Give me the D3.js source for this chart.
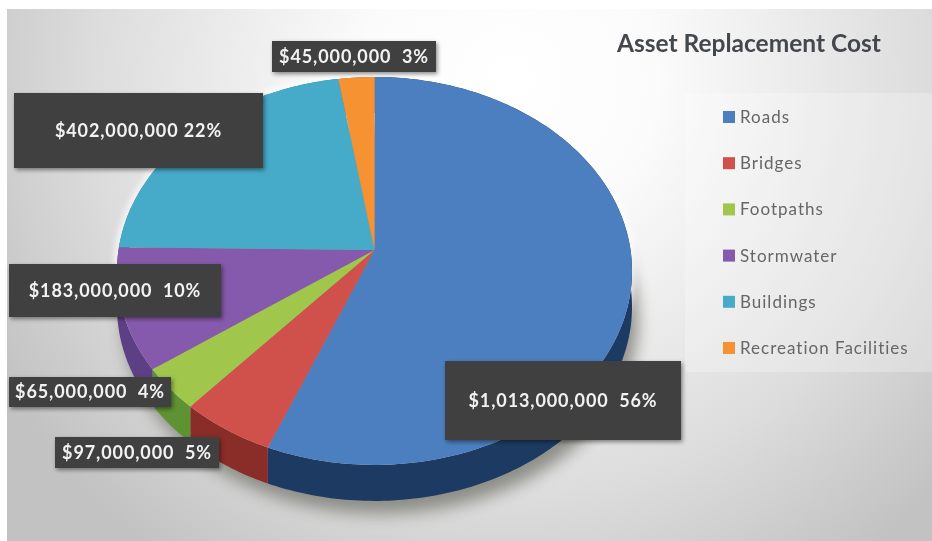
<!DOCTYPE html>
<head>
    <meta charset="utf-8">
    <script src="https://d3js.org/d3.v7.min.js"></script>
    <style>
        body {
            margin: 0;
            background: white;
        }

        svg {
            display: block;
            filter: blur(0.6px);
        }

        text {
            font-family: Lato, "Open Sans", sans-serif;
            white-space: pre;
        }
    </style>
</head>

<body>
<svg id="chart" width="932" height="541"></svg>
<script>

    const title = "Asset Replacement Cost";
    const categories = ["Roads", "Bridges", "Footpaths", "Stormwater", "Buildings", "Recreation Facilities"];
    const costs = [1013000000, 97000000, 65000000, 183000000, 402000000, 45000000];
    const labelTexts = ["$1,013,000,000  56%", "$97,000,000  5%", "$65,000,000  4%", "$183,000,000  10%", "$402,000,000 22%", "$45,000,000  3%"];
    const topColors = ["#4b7fbf", "#d0504b", "#a0c64c", "#8559ab", "#46abc8", "#f79232"];
    const sideColors = ["#1d3a63", "#8a2c27", "#5f9232", "#5d3f85", "#2d7f96", "#b5641c"];

    // label boxes: x, y, width, height
    const labelBoxes = [
        [445, 361, 236, 79],
        [55, 437, 164, 31],
        [9, 377, 162, 30],
        [9, 264, 212, 53],
        [14, 93, 249, 75],
        [272, 41, 164, 31]
    ];

    const svg = d3.select("#chart");
    const defs = svg.append("defs");

    const bg = defs.append("radialGradient")
        .attr("id", "bg")
        .attr("gradientUnits", "userSpaceOnUse")
        .attr("cx", 510).attr("cy", 80).attr("r", 590);
    bg.append("stop").attr("offset", "0").attr("stop-color", "#ffffff");
    bg.append("stop").attr("offset", "0.25").attr("stop-color", "#fbfbfb");
    bg.append("stop").attr("offset", "0.7").attr("stop-color", "#dddddd");
    bg.append("stop").attr("offset", "1").attr("stop-color", "#c2c2c2");

    defs.append("filter").attr("id", "soft")
        .attr("x", "-20%").attr("y", "-20%").attr("width", "140%").attr("height", "140%")
        .append("feGaussianBlur").attr("stdDeviation", 8);
    defs.append("filter").attr("id", "halo")
        .attr("x", "-20%").attr("y", "-20%").attr("width", "140%").attr("height", "140%")
        .append("feGaussianBlur").attr("stdDeviation", 3);
    defs.append("filter").attr("id", "boxShadow")
        .attr("x", "-10%").attr("y", "-20%").attr("width", "120%").attr("height", "140%")
        .append("feDropShadow")
        .attr("dx", 1.5).attr("dy", 2).attr("stdDeviation", 2)
        .attr("flood-color", "#000").attr("flood-opacity", 0.45);

    svg.append("rect")
        .attr("x", 7).attr("y", 9).attr("width", 925).attr("height", 532)
        .attr("fill", "url(#bg)");

    // legend panel is a bit lighter than the background
    svg.append("rect")
        .attr("x", 685).attr("y", 93).attr("width", 247).attr("height", 279)
        .attr("fill", "#fff").attr("opacity", 0.25);

    // perspective of the tilted pie, centre of the slices sits above the ellipse centre
    const cx = 374.5, cy = 250, rx = 256, ry = 191.7, tilt = -0.108, depth = 36;

    const xPos = d3.scaleLinear().domain([-1, 1]).range([cx - rx, cx + rx]);
    const yPos = d3.scaleLinear().domain([-1, 1]).range([cy - ry, cy + ry]);

    function project(angle, drop) {
        const w = 1 + tilt * -Math.cos(angle);
        return [
            xPos(Math.sin(angle) / w),
            yPos(-Math.cos(angle) / w) + drop
        ];
    }

    const line = d3.line();
    const pie = d3.pie().sort(null)(costs);

    function arcPoints(d, drop) {
        const n = Math.max(2, Math.ceil((d.endAngle - d.startAngle) * 60));
        return d3.range(n + 1).map(function (i) {
            return project(d.startAngle + (d.endAngle - d.startAngle) * i / n, drop);
        });
    }

    const fullCircle = {startAngle: 0, endAngle: 2 * Math.PI};
    const outline = function (drop) {
        return line(arcPoints(fullCircle, drop)) + "Z";
    };

    // ground shadow
    svg.append("path")
        .attr("d", outline(depth + 6))
        .attr("transform", "translate(6,7)")
        .attr("fill", "#85857f")
        .attr("opacity", 0.9)
        .attr("filter", "url(#soft)");

    // white glow around the back of the pie
    svg.append("path")
        .attr("d", outline(-1))
        .attr("fill", "none")
        .attr("stroke", "#fff")
        .attr("stroke-width", 5)
        .attr("filter", "url(#halo)");

    // sides
    svg.selectAll("path.side").data(pie).enter()
        .append("path")
        .attr("class", "side")
        .attr("d", function (d) {
            return line(arcPoints(d, 0).concat(arcPoints(d, depth).reverse())) + "Z";
        })
        .attr("fill", function (d, i) {
            return sideColors[i];
        });

    // top faces
    svg.selectAll("path.slice").data(pie).enter()
        .append("path")
        .attr("class", "slice")
        .attr("d", function (d) {
            return line([[cx, cy]].concat(arcPoints(d, 0))) + "Z";
        })
        .attr("fill", function (d, i) {
            return topColors[i];
        });

    // data labels
    const labels = svg.selectAll("g.label").data(labelTexts).enter()
        .append("g")
        .attr("class", "label");

    labels.append("rect")
        .attr("x", function (d, i) { return labelBoxes[i][0]; })
        .attr("y", function (d, i) { return labelBoxes[i][1]; })
        .attr("width", function (d, i) { return labelBoxes[i][2]; })
        .attr("height", function (d, i) { return labelBoxes[i][3]; })
        .attr("fill", "#3f3f3f")
        .attr("filter", "url(#boxShadow)");

    labels.append("text")
        .attr("x", function (d, i) { return labelBoxes[i][0] + labelBoxes[i][2] / 2; })
        .attr("y", function (d, i) { return labelBoxes[i][1] + labelBoxes[i][3] / 2; })
        .attr("dy", "0.35em")
        .attr("text-anchor", "middle")
        .attr("fill", "#f2f2f2")
        .style("font-size", "18px")
        .style("font-weight", 700)
        .style("letter-spacing", "0.9px")
        .text(function (d) { return d; });

    svg.append("text")
        .attr("x", 617)
        .attr("y", 52)
        .attr("fill", "#44484c")
        .style("font-size", "24.5px")
        .style("font-weight", 700)
        .text(title);

    // legend
    const legendY = d3.scalePoint().domain(categories).range([117, 348]);

    svg.selectAll("rect.key").data(categories).enter()
        .append("rect")
        .attr("class", "key")
        .attr("x", 723)
        .attr("y", function (d) { return legendY(d) - 6; })
        .attr("width", 12)
        .attr("height", 12)
        .attr("fill", function (d, i) { return topColors[i]; });

    svg.selectAll("text.key").data(categories).enter()
        .append("text")
        .attr("class", "key")
        .attr("x", 740)
        .attr("y", function (d) { return legendY(d); })
        .attr("dy", "0.35em")
        .attr("fill", "#666666")
        .style("font-size", "17px")
        .style("letter-spacing", "1px")
        .text(function (d) { return d; });

</script>

</body>
